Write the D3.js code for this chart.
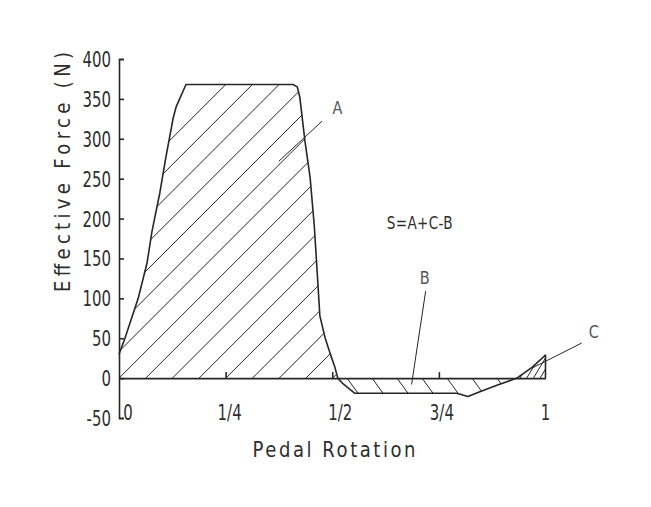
<!DOCTYPE html>
<html><head><meta charset="utf-8">
<script src="https://cdn.jsdelivr.net/npm/d3@7"></script>
<style>
html,body{margin:0;padding:0;background:#fff;}
text{font-family:"DejaVu Sans",sans-serif;fill:#2e2e2e;}
</style></head>
<body>
<svg id="chart" width="651" height="507"></svg>
<script>
// ---- data ----
const rotation = [0, 0.014, 0.045, 0.066, 0.077, 0.096, 0.110, 0.127, 0.134, 0.157, 0.408, 0.418, 0.424, 0.436, 0.448, 0.458, 0.471, 0.483, 0.495, 0.506, 0.513, 0.525, 0.553, 0.792, 0.818, 0.846, 0.886, 0.933, 0.970, 1.0, 1.0];
const force    = [30, 50, 100, 145, 183, 233, 277, 326, 340, 368, 368, 365, 352, 297, 252, 190, 78, 51, 31, 14, 0, -7, -19, -19, -23, -17, -9, 0, 14, 29, 0];
const yTicks = [400, 350, 300, 250, 200, 150, 100, 50, 0, -50];
const yTickLabels = ["400", "350", "300", "250", "200", "150", "100", "50", "0", "-50"];
const xTickValues = [0, 0.25, 0.5, 0.75, 1];
const xTickLabels = ["0", "1/4", "1/2", "3/4", "1"];
const labelA = {text: "A", x: 0.512, y: 338};
const labelB = {text: "B", x: 0.717, y: 125};
const labelC = {text: "C", x: 1.113, y: 58};
const leaderA = [[0.375, 272], [0.476, 322]];
const leaderB = [[0.719, 109], [0.686, -8]];
const leaderC = [[1.085, 44], [0.97, 13]];
const formula = {text: "S=A+C-B", x: 0.705, y: 195};

// ---- layout ----
const svg = d3.select("#chart");
const x = d3.scaleLinear().domain([0, 1]).range([119, 545.5]);
const y = d3.scaleLinear().domain([-50, 400]).range([418, 59]);
const ink = "#262626";
const pts = rotation.map((r, i) => [r, force[i]]);

function narrow(parent, px, py, str, size, anchor, sx, len) {
  const t = parent.append("text")
    .attr("transform", `translate(${px},${py}) scale(${sx},1)`)
    .attr("text-anchor", anchor).attr("font-size", size).text(str);
  if (len) t.attr("textLength", len / sx).attr("lengthAdjust", "spacing");
  return t;
}

const areaPos = d3.area().x(d => x(d[0])).y0(y(0)).y1(d => y(Math.max(0, d[1])));
const areaNeg = d3.area().x(d => x(d[0])).y0(y(0)).y1(d => y(Math.min(0, d[1])));

const defs = svg.append("defs");
defs.append("clipPath").attr("id", "clipA").append("path").attr("d", areaPos(pts.filter(d => d[0] <= 0.6)));
defs.append("clipPath").attr("id", "clipB").append("path").attr("d", areaNeg(pts));
defs.append("clipPath").attr("id", "clipC").append("path").attr("d", areaPos(pts.filter(d => d[0] >= 0.9)));

function hatch(clipId, x0, spacing, slope, from, to) {
  const g = svg.append("g").attr("clip-path", `url(#${clipId})`);
  const y0 = y(0);
  for (let k = -40; k <= 40; k++) {
    const xa = x0 + k * spacing;
    if (xa < from - 200 || xa > to + 200) continue;
    g.append("line")
      .attr("x1", xa - slope * 200).attr("y1", y0 + 200)
      .attr("x2", xa + slope * 400).attr("y2", y0 - 400)
      .attr("stroke", ink).attr("stroke-width", 1);
  }
}
hatch("clipA", x(0), 26.7, 1.0, x(0), x(0.52));
hatch("clipB", 347, 25, -0.73, x(0.5), x(0.95));
hatch("clipC", 520, 6.7, 0.6, x(0.9), x(1));

// curve
svg.append("path")
  .attr("d", d3.line().x(d => x(d[0])).y(d => y(d[1]))(pts))
  .attr("fill", "none").attr("stroke", ink).attr("stroke-width", 1.6)
  .attr("stroke-linejoin", "round");

// y axis
const yAxis = d3.axisLeft(y).tickValues(yTicks).tickSizeInner(-5).tickSizeOuter(-5).tickFormat("");
const gy = svg.append("g").attr("transform", `translate(${x(0)},0)`).call(yAxis);
gy.selectAll("path,line").attr("stroke", ink).attr("stroke-width", 1.6);
const gyl = svg.append("g");
yTicks.forEach((v, i) => {
  narrow(gyl, x(0) - 8, y(v) + 8, yTickLabels[i], 22, "end", 0.68);
});

// x axis
const xAxis = d3.axisBottom(x).tickValues([0.25, 0.5, 0.75]).tickSizeInner(-6).tickSizeOuter(0).tickFormat("");
const gx = svg.append("g").attr("transform", `translate(0,${y(0)})`).call(xAxis);
gx.selectAll("path,line").attr("stroke", ink).attr("stroke-width", 1.6);

const labelShift = [9, 4, 8, 3, 0];
const gxl = svg.append("g");
xTickValues.forEach((v, i) => {
  narrow(gxl, x(v) + labelShift[i], 420, xTickLabels[i], 22, "middle", 0.68);
});

// axis titles
narrow(svg, 334, 457, "Pedal Rotation", 22, "middle", 0.82, 163);
svg.append("g").attr("transform", "translate(70,172) rotate(-90)")
  .call(g => narrow(g, 0, 0, "Effective Force (N)", 22, "middle", 0.82, 240));

// annotations
[leaderA, leaderB, leaderC].forEach(l => {
  svg.append("line")
    .attr("x1", x(l[0][0])).attr("y1", y(l[0][1]))
    .attr("x2", x(l[1][0])).attr("y2", y(l[1][1]))
    .attr("stroke", ink).attr("stroke-width", 1);
});
[labelA, labelB, labelC].forEach(l => {
  narrow(svg, x(l.x), y(l.y) + 6, l.text, 17, "middle", 0.85).style("fill", "#555");
});
narrow(svg, x(formula.x), y(formula.y) + 6, formula.text, 17, "middle", 0.8, 66);
</script>
</body></html>
